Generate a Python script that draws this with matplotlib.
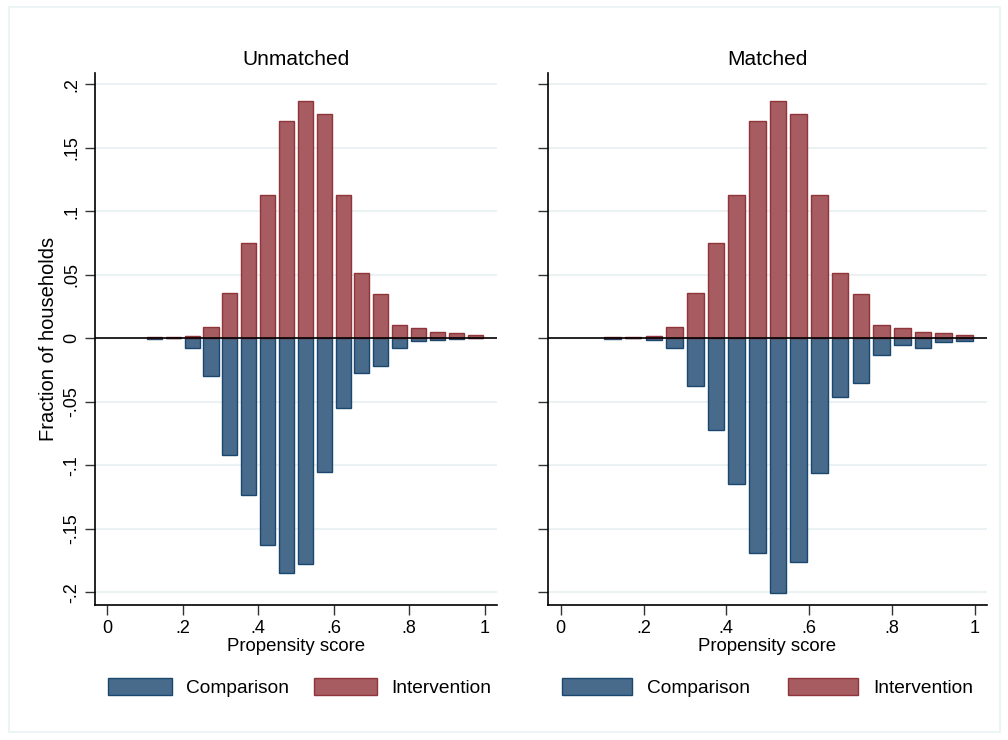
import numpy as np
import matplotlib.pyplot as plt
from matplotlib.patches import Rectangle, Patch

plt.rcParams['font.family'] = ['Liberation Sans', 'DejaVu Sans']

# bin centres of the propensity score histogram (width .05)
bins = [0.125, 0.175, 0.225, 0.275, 0.325, 0.375, 0.425, 0.475, 0.525,
        0.575, 0.625, 0.675, 0.725, 0.775, 0.825, 0.875, 0.925, 0.975]

# intervention fractions (same in both panels)
intervention = [0.0008, 0.0008, 0.0016, 0.0087, 0.0357, 0.0748, 0.113, 0.171, 0.187,
                0.177, 0.113, 0.0514, 0.0346, 0.0105, 0.0081, 0.0052, 0.0039, 0.0024]

# comparison fractions, drawn downwards
comparison_unmatched = [0.0005, 0.0, 0.0076, 0.0297, 0.0916, 0.1236, 0.1627, 0.185, 0.178,
                        0.105, 0.0546, 0.0276, 0.0215, 0.0079, 0.0021, 0.0013, 0.0005, 0.0]
comparison_matched = [0.0005, 0.0, 0.0016, 0.0076, 0.0378, 0.0724, 0.1147, 0.169, 0.2008,
                      0.176, 0.106, 0.0465, 0.0349, 0.0131, 0.005, 0.0073, 0.0031, 0.0021]

titles = ["Unmatched", "Matched"]
yticks = [0.2, 0.15, 0.1, 0.05, 0, -0.05, -0.1, -0.15, -0.2]
ytick_labels = [".2", ".15", ".1", ".05", "0", "-.05", "-.1", "-.15", "-.2"]
xticks = [0, 0.2, 0.4, 0.6, 0.8, 1]
xtick_labels = ["0", ".2", ".4", ".6", ".8", "1"]

blue_fill, blue_edge = '#486b8b', '#1a476f'
red_fill, red_edge = '#a65c60', '#90353b'
grid_col = '#eaf2f3'

fig = plt.figure(figsize=(10.08, 7.4), dpi=100)
fig.patches.append(Rectangle((9/1008, 1 - 732/740), 991/1008, 725/740, transform=fig.transFigure,
                             fill=False, edgecolor=grid_col, linewidth=1.2))

ax1 = fig.add_axes([95/1008, 1 - 605/740, 402/1008, 532/740])
ax2 = fig.add_axes([548.3/1008, 1 - 605/740, 438.4/1008, 532/740])

# legend spacing differs a little between the panels (keys stretch with the panel)
legend_opts = [dict(handlelength=3.3, handletextpad=0.75, columnspacing=1.3,
                    bbox_to_anchor=(0.51, -0.155)),
               dict(handlelength=3.65, handletextpad=0.8, columnspacing=1.95,
                    bbox_to_anchor=(0.5, -0.155))]

for ax, title, comp, lopt in zip([ax1, ax2], titles,
                                 [comparison_unmatched, comparison_matched], legend_opts):
    for yv in yticks:
        if yv != 0:
            ax.axhline(yv, color=grid_col, linewidth=1.5, zorder=0)
    ax.bar(bins, -np.array(comp), width=0.04, color=blue_fill, edgecolor=blue_edge,
           linewidth=1.0, zorder=2)
    ax.bar(bins, intervention, width=0.04, color=red_fill, edgecolor=red_edge,
           linewidth=1.0, zorder=2)
    ax.axhline(0, color='black', linewidth=1.2, zorder=3)

    ax.set_xlim(-0.0326, 1.033)
    ax.set_ylim(-0.21, 0.209)
    ax.set_xticks(xticks)
    ax.set_xticklabels(xtick_labels, fontsize=13)
    ax.set_yticks(yticks)
    ax.set_yticklabels(ytick_labels, fontsize=13, rotation=90, va='center')
    ax.tick_params(length=7, width=1.0, color='#333333')
    for s in ['top', 'right']:
        ax.spines[s].set_visible(False)
    for s in ['left', 'bottom']:
        ax.spines[s].set_linewidth(1.2)
    ax.set_title(title, fontsize=15, pad=6)
    ax.set_xlabel("Propensity score", fontsize=13.4, labelpad=1)

    handles = [Patch(facecolor=blue_fill, edgecolor=blue_edge, label="Comparison"),
               Patch(facecolor=red_fill, edgecolor=red_edge, label="Intervention")]
    ax.legend(handles=handles, loc='center', ncol=2, frameon=False, fontsize=13.8,
              handleheight=1.0, **lopt)

ax2.set_xlim(-0.030, 1.029)
ax1.set_ylabel("Fraction of households", fontsize=14.5, labelpad=4)
ax2.set_yticklabels([])

fig.savefig("out.png", dpi=100)
